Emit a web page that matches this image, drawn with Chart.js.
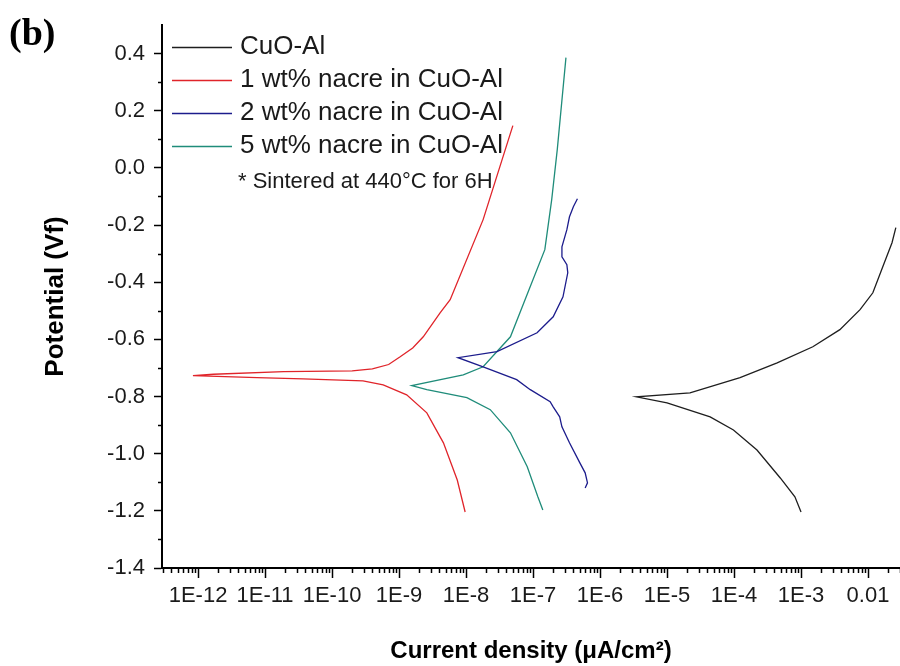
<!DOCTYPE html>
<html>
<head>
<meta charset="utf-8">
<script src="https://cdn.jsdelivr.net/npm/chart.js@4"></script>
<style>
  body { margin: 0; background: #fff; }
  #wrap { width: 900px; height: 666px; }
</style>
</head>
<body>
<div id="wrap"><canvas id="tafelChart" width="900" height="666"></canvas></div>
<script>
// series labels + colours
const seriesLabels = ["CuO-Al", "1 wt% nacre in CuO-Al", "2 wt% nacre in CuO-Al", "5 wt% nacre in CuO-Al"];
const seriesColors = ["#1e1e1e", "#e0242a", "#1c1c8c", "#1f8c7a"];
const noteText = "* Sintered at 440\u00B0C for 6H";

// x axis decades
const xTickValues = [1e-12, 1e-11, 1e-10, 1e-9, 1e-8, 1e-7, 1e-6, 1e-5, 1e-4, 1e-3, 1e-2];
const xTickLabels = ["1E-12", "1E-11", "1E-10", "1E-9", "1E-8", "1E-7", "1E-6", "1E-5", "1E-4", "1E-3", "0.01"];

// CuO-Al (current density, potential)
const cuoX = [1.0e-3, 8.1e-4, 4.9e-4, 2.2e-4, 9.8e-5, 4.4e-5, 1.0e-5, 3.5e-6, 2.2e-5, 1.23e-4, 4.4e-4, 1.5e-3, 3.8e-3, 7.6e-3, 0.0118, 0.0166, 0.0228, 0.026];
const cuoY = [-1.204, -1.151, -1.085, -0.987, -0.917, -0.871, -0.822, -0.801, -0.787, -0.734, -0.682, -0.626, -0.566, -0.496, -0.437, -0.346, -0.262, -0.209];

// 1 wt% nacre
const nacre1X = [9.7e-9, 7.4e-9, 4.6e-9, 2.6e-9, 1.3e-9, 5.8e-10, 2.9e-10, 3.7e-11, 7.6e-12, 8.4e-13, 1.7e-12, 1.9e-11, 2.0e-10, 4.0e-10, 7.0e-10, 1.04e-9, 1.6e-9, 2.3e-9, 4.1e-9, 5.8e-9, 1.8e-8, 5.0e-8];
const nacre1Y = [-1.204, -1.092, -0.962, -0.857, -0.794, -0.759, -0.745, -0.738, -0.734, -0.727, -0.722, -0.713, -0.710, -0.703, -0.688, -0.661, -0.630, -0.591, -0.507, -0.461, -0.181, 0.148];

// 2 wt% nacre
const nacre2X = [6.0e-7, 6.5e-7, 6.0e-7, 5.0e-7, 3.5e-7, 2.7e-7, 2.5e-7, 2.0e-7, 1.8e-7, 9.1e-8, 5.7e-8, 1.8e-8, 7.6e-9, 2.9e-8, 1.15e-7, 2.0e-7, 2.8e-7, 3.3e-7, 3.2e-7, 2.7e-7, 2.7e-7, 3.2e-7, 3.5e-7, 4.0e-7, 4.6e-7];
const nacre2Y = [-1.12, -1.102, -1.067, -1.032, -0.962, -0.906, -0.871, -0.836, -0.818, -0.776, -0.741, -0.696, -0.664, -0.643, -0.577, -0.521, -0.451, -0.367, -0.339, -0.311, -0.276, -0.216, -0.171, -0.136, -0.108];

// 5 wt% nacre
const nacre5X = [1.4e-7, 1.18e-7, 8.2e-8, 4.6e-8, 2.3e-8, 1.03e-8, 2.6e-9, 1.55e-9, 9.1e-9, 1.8e-8, 4.6e-8, 7.6e-8, 1.5e-7, 1.9e-7, 2.3e-7, 3.1e-7];
const nacre5Y = [-1.197, -1.151, -1.046, -0.927, -0.846, -0.804, -0.776, -0.762, -0.724, -0.696, -0.591, -0.461, -0.286, -0.111, 0.064, 0.386];

const FONT = "'Liberation Sans', Arial, sans-serif";

function pts(xs, ys) {
  return xs.map((x, i) => ({ x: x, y: ys[i] }));
}

const seriesData = [pts(cuoX, cuoY), pts(nacre1X, nacre1Y), pts(nacre2X, nacre2Y), pts(nacre5X, nacre5Y)];

const isMajorY = v => Math.round(v * 10) % 2 === 0 && v < 0.45;

// minor ticks, legend box and panel letter
const extrasPlugin = {
  id: "extras",
  afterDraw(chart) {
    const c = chart.ctx;
    const xs = chart.scales.x, ys = chart.scales.y;
    const area = chart.chartArea;
    c.save();
    c.strokeStyle = "#000";
    c.lineWidth = 1.5;
    xs.ticks.forEach(t => {
      if (t.major) return;
      const px = Math.round(xs.getPixelForValue(t.value)) + 0.5;
      c.beginPath();
      c.moveTo(px, area.bottom);
      c.lineTo(px, area.bottom + 5);
      c.stroke();
    });
    ys.ticks.forEach(t => {
      if (isMajorY(t.value) || t.value > 0.45) return;
      const py = Math.round(ys.getPixelForValue(t.value)) + 0.5;
      c.beginPath();
      c.moveTo(area.left, py);
      c.lineTo(area.left - 4, py);
      c.stroke();
    });

    // legend
    const lx = area.left + 10, ly = area.top + 22, rowH = 33;
    c.textBaseline = "middle";
    c.textAlign = "left";
    chart.data.datasets.forEach((ds, i) => {
      const y = ly + i * rowH;
      c.strokeStyle = ds.borderColor;
      c.lineWidth = 1.3;
      c.beginPath();
      c.moveTo(lx, y + 0.5);
      c.lineTo(lx + 60, y + 0.5);
      c.stroke();
      c.fillStyle = "#1a1a1a";
      c.font = "26px " + FONT;
      c.fillText(ds.label, lx + 68, y);
    });
    c.font = "22px " + FONT;
    c.fillText(noteText, lx + 66, ly + 4 * rowH + 3);

    // panel letter
    c.font = "bold 38px 'Liberation Serif', 'Times New Roman', serif";
    c.fillStyle = "#000";
    c.fillText("(b)", 9, 35);
    c.restore();
  }
};

const ctx = document.getElementById("tafelChart").getContext("2d");

const tafelChart = new Chart(ctx, {
  type: "scatter",
  data: {
    datasets: seriesLabels.map((label, i) => ({
      label: label,
      data: seriesData[i],
      showLine: true,
      borderColor: seriesColors[i],
      backgroundColor: seriesColors[i],
      borderWidth: 1.3,
      pointRadius: 0,
      tension: 0
    }))
  },
  options: {
    responsive: false,
    animation: false,
    devicePixelRatio: 1,
    layout: { padding: { left: 20, right: 0, top: 25, bottom: 0 } },
    plugins: {
      legend: { display: false },
      tooltip: { enabled: false }
    },
    scales: {
      x: {
        type: "logarithmic",
        min: 2.9e-13,
        max: 0.03,
        border: { display: true, color: "#000", width: 2 },
        grid: {
          drawOnChartArea: false,
          drawTicks: true,
          tickLength: 10,
          tickWidth: 1.5,
          tickColor: c => (c.tick && c.tick.major ? "#000" : "rgba(0,0,0,0)")
        },
        afterBuildTicks: scale => {
          // decade ticks plus 2..9 minor ticks
          const ticks = [];
          [1e-13].concat(xTickValues).forEach(v => {
            for (let m = 1; m <= 9; m++) {
              const val = v * m;
              if (val >= scale.min && val <= scale.max) {
                ticks.push({ value: val, major: m === 1 && xTickValues.some(d => Math.abs(val / d - 1) < 1e-6) });
              }
            }
          });
          scale.ticks = ticks;
        },
        ticks: {
          autoSkip: false,
          maxRotation: 0,
          padding: 5,
          color: "#1a1a1a",
          font: { family: FONT, size: 22 },
          callback: function (value) {
            const k = xTickValues.findIndex(v => Math.abs(value / v - 1) < 1e-6);
            return k >= 0 ? xTickLabels[k] : "";
          }
        },
        title: {
          display: true,
          text: "Current density (\u03BCA/cm\u00B2)",
          color: "#000",
          font: { family: FONT, size: 24, weight: "bold" },
          padding: { top: 0, bottom: 0 }
        },
        afterFit: scale => {
          scale.height = 98;
          scale.paddingLeft = 0;
          scale.paddingRight = 0;
        }
      },
      y: {
        min: -1.4,
        max: 0.5,
        border: { display: true, color: "#000", width: 2 },
        grid: {
          drawOnChartArea: false,
          drawTicks: true,
          tickLength: 8,
          tickWidth: 1.5,
          tickColor: c => (c.tick && isMajorY(c.tick.value) ? "#000" : "rgba(0,0,0,0)")
        },
        ticks: {
          stepSize: 0.1,
          autoSkip: false,
          padding: 9,
          color: "#1a1a1a",
          font: { family: FONT, size: 22 },
          callback: v => (isMajorY(v) ? v.toFixed(1) : "")
        },
        title: {
          display: true,
          text: "Potential (Vf)",
          color: "#000",
          font: { family: FONT, size: 26, weight: "bold" },
          padding: { top: 20, bottom: 0 }
        },
        afterFit: scale => {
          scale.width = 142;
          scale.paddingTop = 0;
          scale.paddingBottom = 0;
        }
      }
    }
  },
  plugins: [extrasPlugin]
});
</script>
</body>
</html>
